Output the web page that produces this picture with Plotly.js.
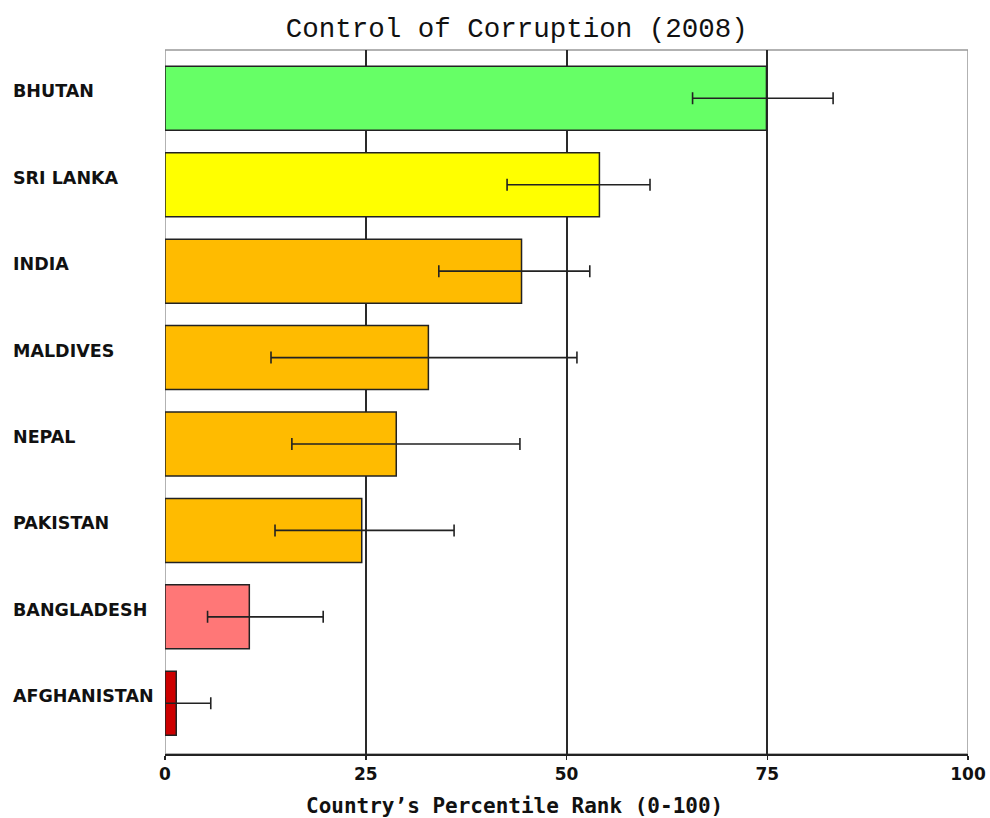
<!DOCTYPE html>
<html>
<head>
<meta charset="utf-8">
<script src="https://cdn.plot.ly/plotly-3.0.1.min.js"></script>
<style>html,body{margin:0;padding:0;background:#fff;}#chart{width:990px;height:818px;}</style>
</head>
<body>
<div id="chart"></div>
<script>
const countries = ["BHUTAN", "SRI LANKA", "INDIA", "MALDIVES", "NEPAL", "PAKISTAN", "BANGLADESH", "AFGHANISTAN"];
const rank = [74.9, 54.1, 44.4, 32.8, 28.8, 24.5, 10.5, 1.4];
const lower = [65.7, 42.6, 34.1, 13.2, 15.8, 13.7, 5.3, 0.0];
const upper = [83.2, 60.4, 52.9, 51.3, 44.2, 36.0, 19.7, 5.7];
const barColors = ["#66ff66", "#ffff00", "#ffbb00", "#ffbb00", "#ffbb00", "#ffbb00", "#ff7777", "#cc0000"];
const xTicks = [0, 25, 50, 75, 100];
const titleText = "Control of Corruption (2008)";
const xTitleText = "Country\u2019s Percentile Rank (0-100)";

const trace = {
  type: "bar",
  orientation: "h",
  x: rank,
  y: countries,
  width: 0.74,
  marker: {color: barColors, line: {color: "#222", width: 1.5}},
  error_x: {
    type: "data", symmetric: false,
    array: upper.map((u, i) => u - rank[i]),
    arrayminus: lower.map((l, i) => rank[i] - l),
    color: "#222", thickness: 1.6, width: 6
  },
  hoverinfo: "none"
};

const annotations = countries.map(c => ({
  text: c, xref: "paper", x: -0.1918, xanchor: "left",
  yref: "y", y: c, yanchor: "middle", yshift: 7, showarrow: false,
  font: {family: "DejaVu Sans", size: 17.5, color: "#111", weight: "bold"}
}));
annotations.push({
  text: xTitleText, xref: "paper", x: 0.435, xanchor: "center",
  yref: "paper", y: -0.0739, yanchor: "middle", showarrow: false,
  font: {family: "DejaVu Sans Mono", size: 21, color: "#111", weight: "bold"}
});

const layout = {
  width: 990, height: 818,
  margin: {l: 165, r: 22, t: 50, b: 64},
  paper_bgcolor: "#fff", plot_bgcolor: "#fff",
  showlegend: false,
  title: {text: titleText, x: 0.522, xref: "container", xanchor: "center",
          y: 0.967, yref: "container", yanchor: "middle",
          font: {family: "Liberation Mono", size: 27.5, color: "#111"}},
  xaxis: {
    range: [0, 100], tickvals: xTicks, ticktext: xTicks.map(String),
    showgrid: true, gridcolor: "#2a2a2a", gridwidth: 2, zeroline: false,
    showline: true, linecolor: "#222", linewidth: 1.5,
    ticks: "outside", ticklen: 4, tickcolor: "#222", tickwidth: 1.5,
    tickfont: {family: "DejaVu Sans", size: 17, color: "#111", weight: "bold"},
    fixedrange: true
  },
  yaxis: {
    type: "category", categoryarray: countries,
    range: [7.587, -0.559],
    showticklabels: false, showgrid: false, zeroline: false, showline: false,
    ticks: "", fixedrange: true
  },
  shapes: [{
    type: "rect", xref: "x", yref: "paper", x0: 0, x1: 100, y0: 0, y1: 1,
    line: {color: "#999", width: 1.5}, layer: "below"
  }],
  annotations: annotations
};

Plotly.newPlot("chart", [trace], layout, {displayModeBar: false, staticPlot: true});
</script>
</body>
</html>
